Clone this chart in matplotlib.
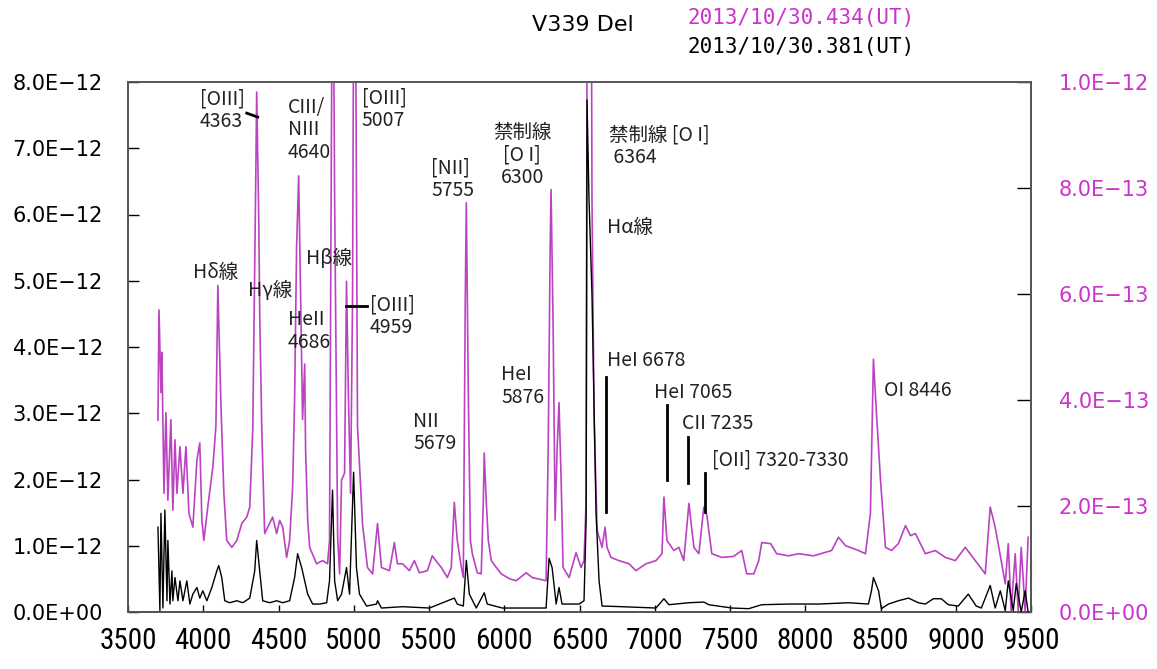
import numpy as np
import matplotlib.pyplot as plt
from matplotlib.ticker import FuncFormatter

# spectrum: wavelength [A], flux
# magenta: 2013/10/30.434, right axis, units of 1e-13
wl_m = [3699, 3706, 3719, 3725, 3739, 3752, 3765, 3785, 3798, 3812, 3825, 3845, 3865, 3885,
        3905, 3931, 3958, 3977, 3991, 4004, 4030, 4064, 4084, 4097, 4117, 4137, 4156, 4190,
        4223, 4256, 4289, 4309, 4329, 4349, 4355, 4369, 4375, 4389, 4408, 4428, 4461, 4488,
        4508, 4528, 4554, 4574, 4594, 4607, 4620, 4634, 4647, 4660, 4674, 4680, 4694, 4707,
        4753, 4793, 4826, 4839, 4860, 4873, 4886, 4893, 4906, 4919, 4939, 4952, 4965, 4979,
        4992, 5005, 5018, 5025, 5038, 5058, 5091, 5125, 5158, 5184, 5237, 5270, 5290, 5324,
        5370, 5403, 5436, 5489, 5522, 5556, 5582, 5622, 5648, 5668, 5688, 5715, 5728, 5741,
        5748, 5761, 5775, 5788, 5821, 5847, 5861, 5867, 5880, 5894, 5914, 5947, 5980, 6033,
        6079, 6146, 6186, 6278, 6292, 6305, 6311, 6325, 6338, 6351, 6364, 6378, 6391, 6431,
        6477, 6510, 6530, 6544, 6557, 6570, 6583, 6597, 6617, 6650, 6670, 6683, 6709, 6762,
        6829, 6875, 6942, 7008, 7048, 7061, 7081, 7127, 7160, 7193, 7227, 7260, 7293, 7326,
        7346, 7359, 7379, 7445, 7525, 7578, 7611, 7658, 7691, 7711, 7770, 7810, 7890, 7956,
        8055, 8175, 8221, 8268, 8354, 8400, 8433, 8453, 8473, 8500, 8533, 8573, 8619, 8666,
        8699, 8732, 8798, 8864, 8931, 8997, 9063, 9130, 9196, 9229, 9262, 9302, 9329, 9349,
        9368, 9395, 9415, 9435, 9461, 9481]
flux_m = [3.62, 5.70, 4.14, 4.90, 2.24, 3.76, 2.11, 3.63, 1.92, 3.25, 2.24, 3.12, 2.24, 3.12,
          1.86, 1.60, 2.87, 3.19, 1.73, 1.35, 1.98, 2.74, 3.50, 6.16, 3.95, 2.24, 1.35, 1.22,
          1.35, 1.67, 1.79, 1.98, 3.44, 8.19, 9.81, 7.38, 5.67, 3.44, 1.48, 1.60, 1.79, 1.48,
          1.73, 1.60, 1.03, 1.35, 2.36, 4.01, 6.86, 8.23, 5.91, 3.63, 4.68, 3.06, 1.73, 1.22,
          0.91, 0.97, 0.91, 1.35, 14.0, 7.80, 3.76, 1.41, 0.72, 2.49, 2.62, 6.24, 4.01, 2.24,
          5.91, 16.0, 7.80, 3.50, 2.80, 1.67, 0.84, 0.72, 1.67, 0.84, 0.78, 1.31, 0.91, 0.91,
          0.78, 0.97, 0.74, 0.78, 1.06, 0.93, 0.84, 0.65, 0.84, 2.07, 1.35, 0.84, 0.65, 5.91,
          7.72, 4.20, 1.35, 1.10, 0.74, 0.72, 2.11, 3.00, 2.11, 1.35, 0.97, 0.84, 0.72, 0.63,
          0.59, 0.74, 0.65, 0.59, 3.06, 6.86, 7.97, 5.34, 1.73, 3.06, 3.95, 2.49, 0.84, 0.65,
          1.12, 0.84, 0.97, 2.11, 20.0, 20.0, 7.80, 3.63, 1.54, 1.22, 1.60, 1.22, 1.03, 0.97,
          0.91, 0.78, 0.91, 0.97, 1.10, 2.17, 1.35, 1.16, 1.22, 0.97, 2.05, 1.22, 1.10, 1.98,
          1.83, 1.54, 1.10, 1.03, 1.05, 1.16, 0.72, 0.72, 0.97, 1.31, 1.29, 1.10, 1.06, 1.10,
          1.06, 1.16, 1.41, 1.25, 1.16, 1.10, 1.86, 4.77, 3.76, 2.49, 1.22, 1.16, 1.29, 1.63,
          1.44, 1.48, 1.10, 1.16, 1.03, 0.97, 1.22, 0.97, 0.72, 1.98, 1.60, 0.97, 0.53, 1.29,
          0.02, 1.10, 0.02, 1.22, 0.02, 1.41]

# black: 2013/10/30.381, left axis, units of 1e-12
wl_k = [3699, 3712, 3719, 3732, 3745, 3759, 3765, 3779, 3792, 3798, 3812, 3832, 3845, 3865,
        3891, 3911, 3931, 3958, 3977, 3997, 4024, 4057, 4090, 4103, 4123, 4143, 4176, 4223,
        4263, 4309, 4342, 4355, 4375, 4395, 4442, 4488, 4528, 4574, 4607, 4627, 4654, 4674,
        4694, 4727, 4773, 4820, 4839, 4859, 4873, 4893, 4919, 4952, 4972, 4999, 5018, 5038,
        5085, 5151, 5158, 5184, 5324, 5503, 5668, 5688, 5728, 5748, 5768, 5814, 5867, 5887,
        5987, 6278, 6298, 6318, 6345, 6364, 6384, 6497, 6530, 6544, 6550, 6563, 6583, 6610,
        6630, 6650, 6782, 7008, 7061, 7094, 7227, 7326, 7359, 7512, 7624, 7711, 7890, 8089,
        8288, 8420, 8440, 8453, 8487, 8506, 8553, 8619, 8686, 8752, 8798, 8851, 8904, 8951,
        9017, 9083, 9136, 9170, 9229, 9262, 9296, 9329, 9349, 9382, 9402, 9435, 9461, 9481]
flux_k = [1.28, 0.02, 1.49, 0.06, 1.54, 0.17, 1.08, 0.12, 0.62, 0.17, 0.52, 0.17, 0.47, 0.17,
          0.47, 0.12, 0.27, 0.37, 0.21, 0.32, 0.17, 0.37, 0.62, 0.70, 0.52, 0.17, 0.14, 0.17,
          0.14, 0.21, 0.62, 1.08, 0.62, 0.17, 0.14, 0.17, 0.14, 0.17, 0.52, 0.88, 0.67, 0.47,
          0.27, 0.12, 0.12, 0.14, 0.47, 1.84, 0.47, 0.17, 0.27, 0.67, 0.27, 2.11, 0.67, 0.27,
          0.09, 0.12, 0.17, 0.06, 0.08, 0.06, 0.21, 0.12, 0.09, 0.78, 0.27, 0.06, 0.29, 0.12,
          0.06, 0.06, 0.81, 0.67, 0.12, 0.37, 0.12, 0.12, 0.17, 1.38, 7.73, 6.25, 4.78, 1.49,
          0.47, 0.09, 0.08, 0.06, 0.20, 0.11, 0.14, 0.15, 0.11, 0.06, 0.05, 0.11, 0.12, 0.12,
          0.14, 0.12, 0.32, 0.52, 0.32, 0.05, 0.12, 0.17, 0.21, 0.14, 0.12, 0.20, 0.20, 0.11,
          0.09, 0.27, 0.09, 0.06, 0.40, 0.06, 0.32, 0.02, 0.47, 0.02, 0.43, 0.00, 0.32, 0.00]

x_ticks = list(range(3500, 9501, 500))
left_ticks = [0, 1, 2, 3, 4, 5, 6, 7, 8]          # x 1e-12
right_ticks = [0, 2, 4, 6, 8, 10]                 # x 1e-13

MAGENTA = '#bc42c4'
LABEL_MAG = '#cc33cc'
CJK = ['Noto Sans CJK JP', 'DejaVu Sans']


def sci(v, pos):
    if v == 0:
        return '0.0E+00'
    e = int(np.floor(np.log10(abs(v)) + 1e-9))
    m = v / 10 ** e
    return f'{m:.1f}E\u2212{-e}'


fig = plt.figure(figsize=(11.57, 6.69), dpi=100)
ax = fig.add_axes([128 / 1157, 57 / 669, 903 / 1157, 530 / 669])
ax2 = ax.twinx()

ax.plot(wl_k, np.array(flux_k) * 1e-12, color='black', lw=1.0, zorder=3)
ax2.plot(wl_m, np.array(flux_m) * 1e-13, color=MAGENTA, lw=1.2, zorder=2)
ax.set_zorder(ax2.get_zorder() + 1)
ax.patch.set_visible(False)

ax.set_xlim(3500, 9500)
ax.set_ylim(0, 8e-12)
ax2.set_ylim(0, 1e-12)
ax.set_xticks(x_ticks)
ax.set_yticks([t * 1e-12 for t in left_ticks])
ax2.set_yticks([t * 1e-13 for t in right_ticks])
ax.yaxis.set_major_formatter(FuncFormatter(sci))
ax2.yaxis.set_major_formatter(FuncFormatter(sci))

ax.tick_params(axis='y', direction='in', length=8, width=1, pad=18, labelsize=15)
ax.tick_params(axis='x', direction='in', length=5, width=1, pad=11)
ax2.tick_params(axis='y', direction='in', length=10, width=1, pad=20, labelsize=15,
                labelcolor=LABEL_MAG)
for lab in ax.get_xticklabels():
    lab.set_family(['Roboto Condensed', 'Roboto'])
    lab.set_fontsize(21)

for a in (ax, ax2):
    for s in a.spines.values():
        s.set_color('#555555')
        s.set_linewidth(1.3)
ax2.spines['top'].set_color('#888888')

# line identifications (positions in left-axis units of 1e-12)
labels = [
    ('[OIII]\n4363', 3977, 7.90, 'left', 'top'),
    ('CIII/\nNIII\n4640', 4561, 7.78, 'left', 'top'),
    ('[OIII]\n5007', 5052, 7.92, 'left', 'top'),
    ('[NII]\n5755', 5516, 6.86, 'left', 'top'),
    ('禁制線\n[O I]\n6300', 6119, 7.40, 'center', 'top'),
    ('禁制線 [O I]\n 6364', 6696, 7.36, 'left', 'top'),
    ('Hα線', 6683, 5.80, 'left', 'center'),
    ('Hδ線', 3931, 5.13, 'left', 'center'),
    ('Hγ線', 4296, 4.86, 'left', 'center'),
    ('Hβ線', 4680, 5.34, 'left', 'center'),
    ('HeII\n4686', 4561, 4.57, 'left', 'top'),
    ('[OIII]\n4959', 5105, 4.79, 'left', 'top'),
    ('NII\n5679', 5396, 3.04, 'left', 'top'),
    ('HeI\n5876', 5980, 3.74, 'left', 'top'),
    ('HeI 6678', 6683, 3.80, 'left', 'center'),
    ('HeI 7065', 6995, 3.32, 'left', 'center'),
    ('CII 7235', 7180, 2.84, 'left', 'center'),
    ('[OII] 7320-7330', 7379, 2.29, 'left', 'center'),
    ('OI 8446', 8526, 3.35, 'left', 'center'),
]
for txt, x, y, ha, va in labels:
    ax.text(x, y * 1e-12, txt, ha=ha, va=va, fontsize=14, family=CJK,
            linespacing=1.1, color='#222222', zorder=5)

# leader marks
leaders = [
    ([4289, 4362], [7.53, 7.47]),
    ([4946, 5091], [4.62, 4.62]),
    ([6676, 6676], [3.55, 1.51]),
    ([7081, 7081], [3.12, 1.99]),
    ([7220, 7220], [2.64, 1.95]),
    ([7333, 7333], [2.10, 1.51]),
]
for xs, ys in leaders:
    ax.plot(xs, [v * 1e-12 for v in ys], color='black', lw=2, zorder=4)

fig.text(0.504, 0.963, 'V339 Del', ha='center', va='center', fontsize=16)
fig.text(0.5946, 0.973, '2013/10/30.434(UT)', ha='left', va='center', fontsize=15,
         family='DejaVu Sans Mono', color=LABEL_MAG)
fig.text(0.5946, 0.930, '2013/10/30.381(UT)', ha='left', va='center', fontsize=15,
         family='DejaVu Sans Mono', color='black')

fig.savefig('out.png', dpi=100)
